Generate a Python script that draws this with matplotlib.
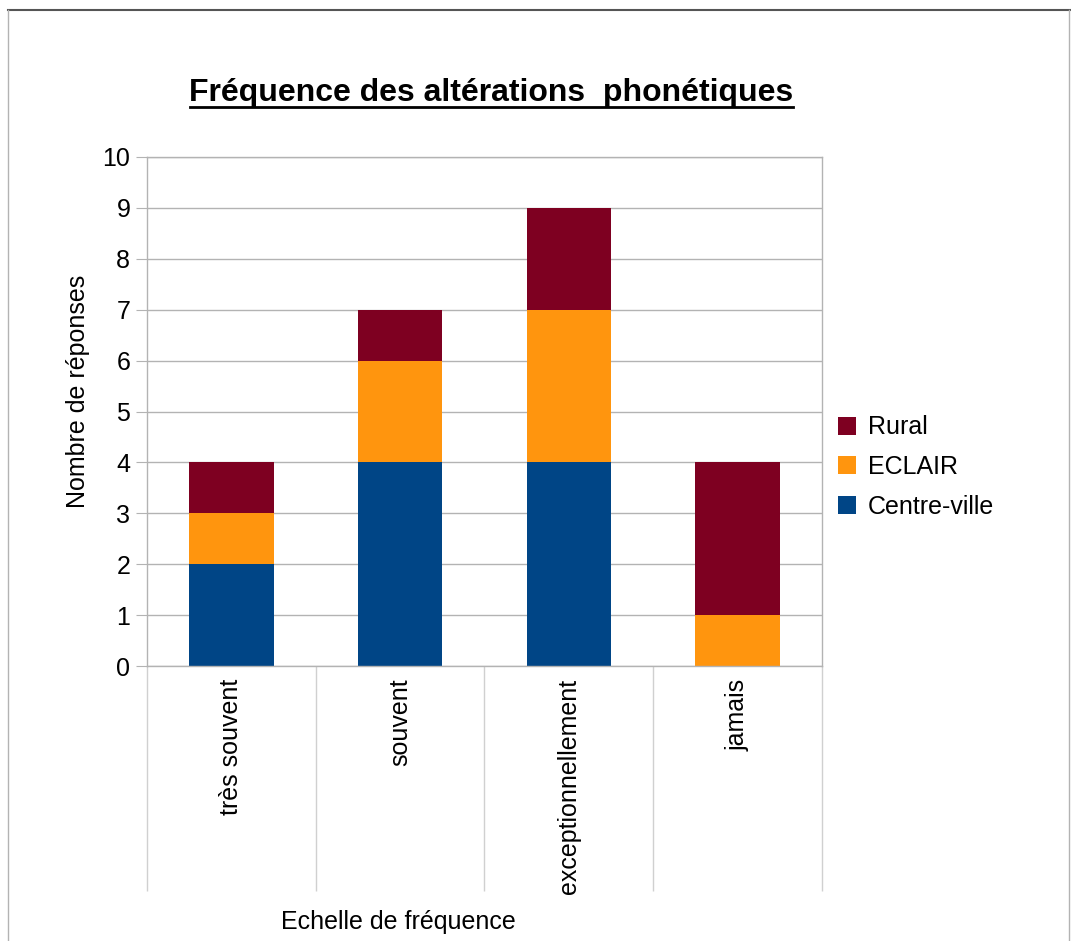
import numpy as np
import matplotlib
matplotlib.use("Agg")
import matplotlib.pyplot as plt
from matplotlib.lines import Line2D
from matplotlib.patches import Patch

plt.rcParams["font.family"] = ["Liberation Sans", "DejaVu Sans"]

# data
categories = ["très souvent", "souvent", "exceptionnellement", "jamais"]
centre_ville = [2, 4, 4, 0]
eclair = [1, 2, 3, 1]
rural = [1, 1, 2, 3]
series_names = ["Centre-ville", "ECLAIR", "Rural"]
colors = ["#004586", "#ff950e", "#7e0021"]

W, H = 1071, 941
fig = plt.figure(figsize=(W / 100, H / 100), dpi=100)
ax = fig.add_axes([147 / W, 1 - 666 / H, (822 - 147) / W, (666 - 157) / H])

x = np.arange(len(categories))
bottom = np.zeros(len(categories))
for name, vals, col in zip(series_names, [centre_ville, eclair, rural], colors):
    ax.bar(x, vals, width=0.5, bottom=bottom, color=col, label=name, zorder=2)
    bottom += np.array(vals)

ax.set_xlim(-0.5, len(categories) - 0.5)
ax.set_ylim(0, 10)
ax.set_yticks(range(0, 11))
ax.tick_params(axis="y", labelsize=18, length=8, color="#b3b3b3", pad=4)
ax.yaxis.grid(True, color="#b3b3b3", linewidth=1, zorder=0)
ax.set_axisbelow(True)

# category labels, rotated, with separator lines below the axis
ax.set_xticks(x)
ax.set_xticklabels(categories, rotation=90, fontsize=18, va="top", ha="center")
ax.tick_params(axis="x", which="major", length=0, pad=9)
ax.set_xticks(np.arange(-0.5, len(categories)), minor=True)
ax.tick_params(axis="x", which="minor", length=162, color="#d0d0d0", width=1)

for s in ax.spines.values():
    s.set_color("#b3b3b3")
    s.set_linewidth(1)

fig.text(78 / W, 1 - 391 / H, "Nombre de réponses", fontsize=18, rotation=90,
         ha="center", va="center")
fig.text(398 / W, 1 - 922 / H, "Echelle de fréquence", fontsize=18,
         ha="center", va="center")
fig.text(491 / W, 1 - 93 / H, "Fréquence des altérations  phonétiques",
         fontsize=23, fontweight="bold", ha="center", va="center")
# underline of the title
fig.add_artist(Line2D([190 / W, 793 / W], [1 - 107 / H, 1 - 107 / H],
                      color="black", linewidth=2))

handles = [Patch(facecolor=c, edgecolor="none") for c in colors][::-1]
fig.legend(handles, series_names[::-1], loc="center left",
           bbox_to_anchor=(815 / W, 1 - 467 / H), frameon=False, fontsize=18,
           handlelength=0.75, handleheight=0.75, handletextpad=0.45,
           labelspacing=0.62)

# outer frame of the chart
fig.add_artist(Line2D([8 / W, 1070 / W], [1 - 9.5 / H, 1 - 9.5 / H],
                      color="#555555", linewidth=1.5))
fig.add_artist(Line2D([8 / W, 8 / W], [0, 1 - 9.5 / H], color="#b3b3b3", linewidth=1))
fig.add_artist(Line2D([1069 / W, 1069 / W], [0, 1 - 9.5 / H], color="#b3b3b3", linewidth=1))

fig.savefig("out.png", dpi=100)
